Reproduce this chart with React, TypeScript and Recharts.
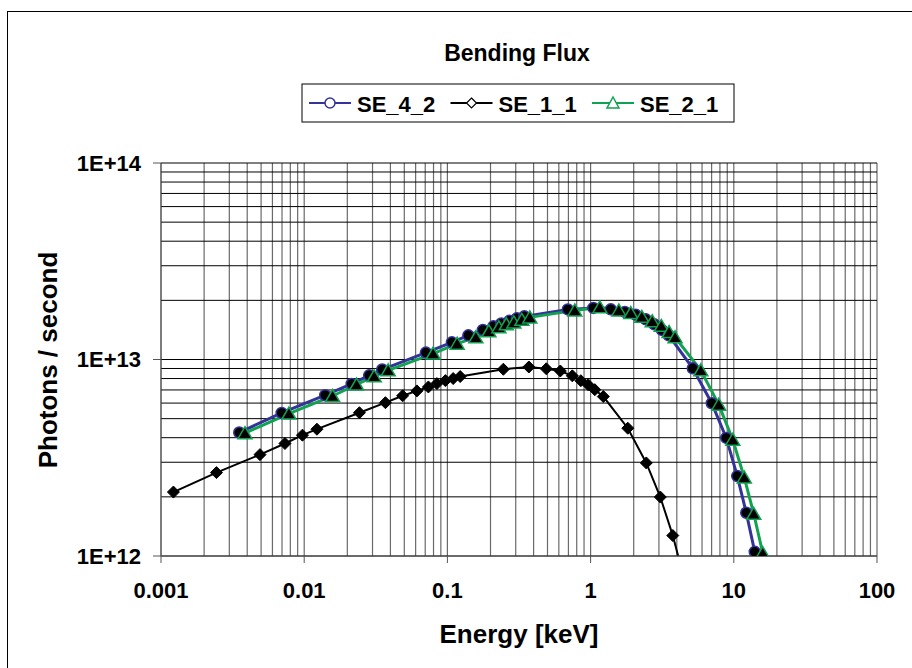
import React from 'react';
import { LineChart, Line, XAxis, YAxis, ReferenceLine } from 'recharts';

// energies in keV, flux in photons / second
const se42Energy = [
  0.00352, 0.00696, 0.01402, 0.02145, 0.02844, 0.03506, 0.0708, 0.1075, 0.1401, 0.1769,
  0.2094, 0.238, 0.2708, 0.3055, 0.3446, 0.6934, 1.045, 1.384, 1.733, 2.069, 2.429,
  2.785, 3.142, 3.516, 5.171, 7.019, 8.859, 10.57, 12.22, 14.01, 15.93,
];
const se42Flux = [
  4.25e12, 5.35e12, 6.58e12, 7.51e12, 8.31e12, 8.89e12, 1.084e13, 1.223e13, 1.327e13, 1.415e13,
  1.475e13, 1.527e13, 1.573e13, 1.62e13, 1.658e13, 1.799e13, 1.831e13, 1.8e13, 1.747e13, 1.687e13, 1.601e13,
  1.51e13, 1.415e13, 1.327e13, 9.02e12, 5.99e12, 3.99e12, 2.55e12, 1.66e12, 1.05e12, 6.72e11,
];

const se11Energy = [
  0.001221, 0.00244, 0.004911, 0.007337, 0.009721, 0.01227, 0.0243, 0.03692, 0.04866, 0.06124,
  0.07368, 0.08445, 0.09681, 0.1097, 0.1228, 0.2459, 0.3705, 0.4907, 0.6146, 0.7455,
  0.8546, 0.9609, 1.07, 1.227, 1.819, 2.449, 3.067, 3.749, 4.62,
];
const se11Flux = [
  2.115e12, 2.657e12, 3.28e12, 3.738e12, 4.12e12, 4.419e12, 5.36e12, 6.03e12, 6.54e12, 6.92e12,
  7.25e12, 7.54e12, 7.81e12, 8.0e12, 8.19e12, 8.92e12, 9.16e12, 8.97e12, 8.74e12, 8.26e12,
  7.8e12, 7.44e12, 7.02e12, 6.48e12, 4.47e12, 2.976e12, 1.995e12, 1.271e12, 7.12e11,
];

const se21Energy = [
  0.003858, 0.007824, 0.01579, 0.02323, 0.03083, 0.0386, 0.07958, 0.117, 0.158, 0.1949,
  0.2288, 0.258, 0.2911, 0.331, 0.3764, 0.776, 1.16, 1.574, 1.909, 2.278, 2.697,
  3.116, 3.533, 3.89, 5.883, 7.852, 9.835, 11.83, 13.78, 15.93, 18.11,
];
const se21Flux = [
  4.22e12, 5.31e12, 6.52e12, 7.46e12, 8.21e12, 8.81e12, 1.072e13, 1.204e13, 1.297e13, 1.391e13,
  1.458e13, 1.51e13, 1.545e13, 1.591e13, 1.638e13, 1.778e13, 1.842e13, 1.778e13, 1.723e13, 1.648e13, 1.564e13,
  1.483e13, 1.379e13, 1.297e13, 8.81e12, 5.89e12, 3.91e12, 2.51e12, 1.64e12, 1.035e12, 6.56e11,
];

const seriesNames = ['SE_4_2', 'SE_1_1', 'SE_2_1'];
const energyTicks = [0.001, 0.01, 0.1, 1, 10, 100];
const fluxTicks = [1e12, 1e13, 1e14];

const FONT = '"Liberation Sans", Arial, Helvetica, sans-serif';
const NAVY = '#333399';
const GREEN = '#12A150';

const toPoints = (xs: number[], ys: number[]) => xs.map((x, i) => ({ x, y: ys[i] }));
const se42 = toPoints(se42Energy, se42Flux);
const se11 = toPoints(se11Energy, se11Flux);
const se21 = toPoints(se21Energy, se21Flux);

// log minor grid values (1..9 per decade)
const minorValues = (ticks: number[]) => {
  const out: number[] = [];
  ticks.slice(0, -1).forEach((d) => {
    for (let k = 1; k < 10; k++) out.push(d * k);
  });
  out.push(ticks[ticks.length - 1]);
  return out;
};
const xGrid = minorValues(energyTicks);
const yGrid = minorValues(fluxTicks);

const CircleDot = (p: any) => {
  if (p.cx == null || p.cy == null) return <g key={p.index} />;
  return <circle key={p.index} cx={p.cx} cy={p.cy} r={5.5} fill="#000" stroke={NAVY} strokeWidth={1.5} />;
};
const DiamondDot = (p: any) => {
  if (p.cx == null || p.cy == null) return <g key={p.index} />;
  const { cx, cy } = p;
  const s = 6;
  return (
    <polygon key={p.index} points={`${cx},${cy - s} ${cx + s},${cy} ${cx},${cy + s} ${cx - s},${cy}`} fill="#000" stroke="#000" strokeWidth={1} />
  );
};
const TriangleDot = (p: any) => {
  if (p.cx == null || p.cy == null) return <g key={p.index} />;
  const { cx, cy } = p;
  return (
    <polygon key={p.index} points={`${cx},${cy - 6.5} ${cx + 7},${cy + 5.5} ${cx - 7},${cy + 5.5}`} fill="#000" stroke={GREEN} strokeWidth={1.5} />
  );
};

const tickStyle = { fill: '#000', fontSize: 22, fontWeight: 'bold', fontFamily: FONT };

function LegendBox() {
  const colors = [NAVY, '#000', GREEN];
  return (
    <g>
      <rect x={302} y={84} width={432} height={38} fill="#fff" stroke="#000" strokeWidth={1} />
      {seriesNames.map((name, i) => {
        const sx = 309 + 141.5 * i;
        const mx = sx + 21;
        const my = 103;
        let marker;
        if (i === 0) marker = <circle cx={mx} cy={my} r={5} fill="#fff" stroke={NAVY} strokeWidth={1.5} />;
        else if (i === 1)
          marker = <polygon points={`${mx},${my - 5} ${mx + 5},${my} ${mx},${my + 5} ${mx - 5},${my}`} fill="#fff" stroke="#000" strokeWidth={1.2} />;
        else
          marker = <polygon points={`${mx},${my - 6} ${mx + 6},${my + 5} ${mx - 6},${my + 5}`} fill="#fff" stroke={GREEN} strokeWidth={1.5} />;
        return (
          <g key={name}>
            <line x1={sx} x2={sx + 42} y1={my} y2={my} stroke={colors[i]} strokeWidth={2} />
            {marker}
            <text x={sx + 48} y={112} fontSize={22} fontWeight="bold" fontFamily={FONT} fill="#000">
              {name}
            </text>
          </g>
        );
      })}
    </g>
  );
}

export default function App() {
  return (
    <div style={{ position: 'fixed', left: 0, top: 0, width: 912, height: 668, overflow: 'hidden', background: '#fff', fontFamily: FONT }}>
      <div style={{ position: 'absolute', left: 7, top: 11, width: 1000, height: 1000, border: '1px solid #000' }} />
      <div style={{ position: 'absolute', left: 0, top: 0 }}>
        <LineChart width={912} height={668} margin={{ top: 163, right: 35, bottom: 62, left: 81 }}>
          <XAxis
            dataKey="x"
            type="number"
            scale="log"
            domain={[0.001, 100]}
            allowDataOverflow
            ticks={energyTicks}
            tickFormatter={(v: number) => String(v)}
            tick={tickStyle}
            tickSize={7}
            tickMargin={19}
            height={50}
            axisLine={{ stroke: '#555' }}
            tickLine={{ stroke: '#555' }}
          />
          <YAxis
            dataKey="y"
            type="number"
            scale="log"
            domain={[1e12, 1e14]}
            allowDataOverflow
            ticks={fluxTicks}
            tickFormatter={(v: number) => `1E+${Math.round(Math.log10(v))}`}
            tick={tickStyle}
            tickSize={8}
            tickMargin={12}
            width={80}
            axisLine={{ stroke: '#555' }}
            tickLine={{ stroke: '#555' }}
          />
          {xGrid.map((v) => (
            <ReferenceLine key={`vx${v}`} x={v} stroke="#6a6a6a" strokeWidth={1.2} />
          ))}
          {yGrid.map((v) => (
            <ReferenceLine key={`hy${v}`} y={v} stroke="#000" strokeWidth={1} />
          ))}
          <Line data={se42} dataKey="y" name={seriesNames[0]} stroke={NAVY} strokeWidth={3} dot={CircleDot} isAnimationActive={false} />
          <Line data={se11} dataKey="y" name={seriesNames[1]} stroke="#000" strokeWidth={2} dot={DiamondDot} isAnimationActive={false} />
          <Line data={se21} dataKey="y" name={seriesNames[2]} stroke={GREEN} strokeWidth={3} dot={TriangleDot} isAnimationActive={false} />
        </LineChart>
      </div>
      <svg width={912} height={668} style={{ position: 'absolute', left: 0, top: 0, pointerEvents: 'none' }}>
        <text x={517} y={61} textAnchor="middle" fontSize={23} fontWeight="bold" fontFamily={FONT}>
          Bending Flux
        </text>
        <LegendBox />
        <text x={519} y={643} textAnchor="middle" fontSize={26} fontWeight="bold" fontFamily={FONT}>
          Energy [keV]
        </text>
        <text
          x={57}
          y={360}
          transform="rotate(-90 57 360)"
          textAnchor="middle"
          fontSize={26}
          fontWeight="bold"
          fontFamily={FONT}
        >
          Photons / second
        </text>
      </svg>
    </div>
  );
}
